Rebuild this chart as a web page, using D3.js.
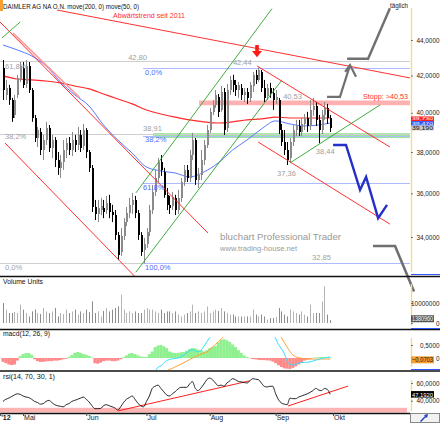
<!DOCTYPE html>
<html>
<head>
<meta charset="utf-8">
<script src="https://cdn.jsdelivr.net/npm/d3@7"></script>
<style>
  body { margin: 0; background: #fff; }
  svg { display: block; font-family: "Liberation Sans", Arial, sans-serif; }
</style>
</head>
<body>
<svg id="chart"></svg>
<script>
var width = 440;
var height = 423;
var plotRight = 410;

// daily candles, 20.04.2012 .. 28.09.2012 (index 0 = first trading day)
var open = [42.42,40.95,41.32,40.68,39.89,40.95,41.76,42.42,41.54,42.53,
  41.21,39.73,38.70,39.01,38.10,38.60,39.21,38.20,38.60,37.60,
  37.22,37.50,38.10,38.45,38.10,38.60,38.35,38.86,38.30,39.11,
  38.00,37.22,35.36,35.04,35.22,35.31,35.22,35.55,35.13,34.99,
  34.09,33.34,34.04,34.67,35.08,35.46,35.69,35.08,34.09,33.43,
  33.69,34.22,35.22,36.07,36.73,37.50,37.02,35.93,35.46,35.41,
  35.79,35.22,35.79,36.54,37.12,36.73,37.85,38.60,36.63,36.88,
  37.60,38.35,39.11,40.05,40.42,40.84,40.15,41.10,39.21,41.21,
  41.76,41.49,41.21,41.32,40.95,41.10,40.79,41.43,42.04,41.76,
  42.20,41.32,40.89,41.32,41.05,40.68,40.68,39.11,38.50,38.10,
  37.70,38.50,39.11,39.32,39.01,39.42,39.73,39.32,40.15,40.36,
  39.63,39.11,39.89,40.26,39.73];
var high = [42.86,41.76,41.49,40.79,40.95,42.04,42.75,42.75,42.86,42.75,
  41.32,39.89,39.27,39.21,38.86,39.53,39.37,38.86,38.75,38.00,
  37.85,38.60,38.70,38.75,39.01,38.86,39.27,39.11,39.42,39.21,
  38.10,37.36,35.69,35.69,35.79,35.69,35.88,35.93,35.46,35.22,
  34.22,34.40,34.85,35.36,35.79,36.02,35.88,35.22,34.22,33.96,
  34.40,35.46,36.40,37.12,37.70,37.85,37.22,36.25,35.88,36.07,
  35.93,36.16,36.73,37.36,37.36,38.10,38.96,38.70,37.22,38.10,
  38.60,39.37,40.26,40.68,41.21,41.00,41.43,41.32,41.54,41.98,
  42.04,41.76,41.65,41.54,41.32,41.32,41.65,42.20,42.31,42.44,
  42.31,41.76,41.54,41.60,41.32,41.21,40.79,39.42,39.11,38.50,
  38.70,39.37,39.63,39.63,39.73,39.94,40.05,40.68,40.79,40.57,
  39.89,40.15,40.57,40.47,39.89];
var low = [40.68,40.68,40.42,39.53,39.73,40.79,41.65,41.32,41.32,41.05,
  39.53,38.50,38.25,37.85,37.60,38.35,38.00,37.70,37.26,36.88,
  36.73,37.12,37.70,37.85,37.80,38.00,38.10,38.00,38.10,37.70,
  37.02,35.13,34.76,34.67,34.99,34.85,35.04,34.85,34.67,33.87,
  32.99,33.17,33.87,34.49,34.85,35.04,34.85,33.87,33.17,32.85,
  33.52,34.04,35.04,35.88,36.54,36.83,35.79,35.22,35.04,35.22,
  34.99,35.04,35.60,36.35,36.54,36.54,37.60,36.40,36.25,36.63,
  37.36,38.20,38.96,39.89,40.26,39.78,40.05,38.86,39.01,40.95,
  41.10,40.89,40.79,40.68,40.57,40.47,40.57,41.10,41.54,41.65,
  41.10,40.57,40.68,40.79,40.15,40.47,38.91,38.30,37.85,37.36,
  37.50,38.30,38.80,38.80,38.80,39.11,39.01,39.11,39.84,39.32,
  38.44,38.91,39.63,39.42,39.01];
var close = [41.21,41.32,40.68,39.73,40.68,41.87,42.53,41.49,42.53,41.21,
  39.73,38.70,39.11,38.10,38.60,39.21,38.20,38.60,37.60,37.22,
  37.50,38.10,38.45,38.10,38.60,38.35,38.86,38.20,39.11,38.00,
  37.22,35.36,35.04,35.31,35.41,35.13,35.55,35.13,34.99,34.09,
  33.21,34.04,34.67,35.08,35.46,35.69,35.08,34.09,33.34,33.69,
  34.22,35.22,36.07,36.73,37.50,37.12,35.93,35.46,35.31,35.83,
  35.22,35.79,36.54,37.12,36.73,37.85,38.60,36.63,36.88,37.60,
  38.35,39.11,40.05,40.42,40.95,40.05,41.10,39.11,41.21,41.76,
  41.49,41.21,41.49,40.95,41.10,40.79,41.49,42.04,41.76,42.31,
  41.32,40.79,41.32,41.05,40.68,40.84,39.11,38.50,38.10,37.60,
  38.50,39.11,39.37,39.01,39.42,39.73,39.32,40.15,40.36,39.63,
  39.11,39.89,40.26,39.73,39.19];
// volume in millions of shares
var volume = [10,6.7,5,5,5.5,5,9.2,6.7,5,3.3,
  5.8,6.7,5,4.5,7.5,5.8,5,5.8,7.5,3.3,
  5,4.5,6.7,5,5.8,6.7,4.2,5.8,5,6.7,
  5.5,10.8,5,5.8,3.3,6,7.5,5.8,6.7,7.5,
  8.3,14.2,6.7,5,5.8,5,5.8,5,5,6.7,
  7.5,6.7,6.7,5.8,5,6.7,5,5.8,5.8,5,
  5.8,4.2,3.3,4.2,5,5.8,9.2,5,5.8,5,
  5.8,8.3,5,5.8,6.7,6,7.5,5.8,5,4.2,
  4.2,3.3,3.3,3.3,3.3,3.3,3.3,6.7,4.2,3.3,
  4.2,3.3,1.7,2.5,2.5,3,7.5,5.8,4.2,3.3,
  6.7,5.8,5,4.2,5.8,4.2,3.3,9.2,5,5,
  5,10.8,18.3,4.2,1.38096];
// moving averages, sampled every 5 days
var maIdx = [0,5,10,15,20,25,30,35,40,45,50,55,60,65,70,75,80,85,90,95,100,105,110,114];
var ma200 = [41.98,41.81,41.76,41.70,41.60,41.43,41.27,41.00,40.73,40.47,40.15,39.94,
  39.78,39.63,39.53,39.47,39.53,39.63,39.68,39.78,39.73,39.73,39.73,39.73];
var ma50 = [43.71,43.43,43.09,42.53,41.65,40.95,40.36,39.37,38.60,37.95,37.26,37.07,
  36.97,36.78,37.02,37.46,38.10,38.60,39.16,39.58,39.42,39.32,39.37,39.47];
var macdHist = [-0.15,-0.2,-0.25,-0.27,-0.25,-0.1,0.08,0.15,0.19,0.19,
  0.12,-0.05,-0.12,-0.15,-0.15,-0.13,-0.12,-0.12,-0.1,-0.1,
  -0.08,-0.05,-0.03,0.05,0.12,0.2,0.23,0.2,0.15,0.12,
  0.08,0.02,-0.2,-0.22,-0.18,-0.12,-0.1,-0.1,-0.12,-0.12,
  -0.1,-0.05,0.03,0.1,0.17,0.19,0.15,0.1,0.06,0.04,
  0.04,0.15,0.25,0.42,0.48,0.5,0.45,0.38,0.25,0.21,
  0.19,0.2,0.22,0.23,0.28,0.35,0.38,0.37,0.32,0.3,
  0.25,0.3,0.38,0.42,0.46,0.6,0.7,0.72,0.68,0.62,
  0.52,0.42,0.3,0.2,0.1,0.04,-0.01,-0.04,-0.05,-0.07,
  -0.08,-0.08,-0.09,-0.1,-0.14,-0.2,-0.28,-0.35,-0.4,-0.41,
  -0.42,-0.38,-0.32,-0.25,-0.18,-0.1,-0.06,-0.03,0.01,0.02,
  0.03,0.04,0.03,0.03,0.02];
// macd and signal line, only the stretches inside the panel range
var macdLine = [
  [[53,-0.5],[54,-0.36],[55,-0.3],[56,-0.2],[57,-0.1],[58,-0.06],[59,-0.03],[60,-0.02],[61,0],[62,0.05],
   [63,0.12],[64,0.2],[65,0.28],[66,0.32],[67,0.28],[68,0.24],[69,0.3],[70,0.45],[71,0.62],[72,0.78],[73,0.95]],
  [[94,0.95],[95,0.75],[96,0.52],[97,0.35],[98,0.18],[99,-0.12],[100,-0.24],[101,-0.27],[102,-0.24],[103,-0.2],
   [104,-0.18],[105,-0.17],[106,-0.16],[107,-0.15],[108,-0.12],[109,-0.08],[110,-0.05],[111,-0.02],[112,0],[113,0.02],[114,0.04]]
];
var signalLine = [
  [[56,-0.6],[57,-0.5],[58,-0.44],[59,-0.4],[60,-0.34],[61,-0.29],[62,-0.24],[63,-0.18],[64,-0.12],[65,-0.06],
   [66,0],[67,0.05],[68,0.1],[69,0.15],[70,0.19],[71,0.23],[72,0.32],[73,0.42],[74,0.52],[75,0.62],[76,0.72],[77,0.85]],
  [[96,0.95],[97,0.78],[98,0.6],[99,0.42],[100,0.25],[101,0.12],[102,0.05],[103,0.01],[104,-0.01],[105,-0.03],
   [106,-0.04],[107,-0.04],[108,-0.04],[109,-0.04],[110,-0.04],[111,-0.04],[112,-0.04],[113,-0.04],[114,-0.04]]
];
var macdValue = -0.0703;
var rsi = [39.2,41.6,42.9,44.7,46.5,47.8,47.1,45.3,44.1,43.5,
  41.6,39.2,38.0,36.1,36.7,39.2,40.4,38.0,35.5,34.3,
  33.7,33.1,35.5,36.7,39.2,40.4,41.6,42.9,44.1,41.6,
  38.6,34.3,31.0,31.0,31.2,34.3,35.5,34.3,33.1,31.8,
  29.4,33.1,38.0,41.6,43.5,45.3,41.6,37.1,34.3,33.1,
  39.2,45.3,53.9,56.3,57.6,53.9,50.2,46.5,45.3,47.8,
  50.2,53.3,55.1,55.1,55.1,58.8,61.6,53.9,51.4,54.5,
  58.8,63.7,65.5,63.7,60.0,56.9,57.6,56.3,60.0,62.4,
  64.9,63.7,61.8,61.2,60.6,60.0,62.4,64.9,64.3,63.7,
  60.0,56.3,55.5,56.3,56.3,47.8,41.0,37.4,36.1,35.5,
  42.9,42.3,42.3,44.1,45.3,46.5,47.8,49.4,51.4,53.9,
  52.0,51.4,53.9,52.7,47.192];

// axis ticks
var priceTicks = [44, 42, 40, 38, 36, 34];
var volumeTicks = [0, 10];
var macdTicks = [0, 0.5];
var rsiTicks = [60, 40];
var monthIdx = [-1, 7, 29, 50, 72, 95, 115];
var monthLabels = ["'12", 'Mai', 'Jun', 'Jul', 'Aug', 'Sep', 'Okt'];

// fibonacci levels and zones
var grayFib = [42.80, 38.91, 32.85];
var grayFibPct = ['61,8%', '38,2%', '0,0%'];
var blueFib = [42.44, 38.78, 36.51, 32.85];
var blueFibPct = ['0,0%', '38,2%', '61,8%', '100,0%'];
var stopZone = [40.40, 40.65];
var supportZone = [38.70, 38.95];

// hand drawn trend lines [day index, price]
var redTrends = [
  [[-1.05, 45.05], [71.4, 34.18]],
  [[0.7, 38.45], [46, 32.28]],
  [[18.8, 45.76], [141.8, 41.87]],
  [[88.5, 42.53], [134.8, 38.25]],
  [[88.9, 38.50], [134.8, 34.58]]
];
var pinkTrend = [[3.5, 44.40], [26.8, 40.79]];
var greenTrends = [
  [[-0.35, 44.12], [6, 45.05]],
  [[46.3, 36.02], [93.7, 45.84]],
  [[46.3, 32.47], [97.2, 41.76]],
  [[100, 37.46], [131.4, 40.42]]
];
var grayUp1 = [[112.9, 40.84], [117.4, 40.84], [120.9, 42.58]];
var grayUp1Head = [[119.2, 42.20], [120.9, 42.58], [123, 41.93]];
var grayUp2 = [[119.9, 42.93], [127.2, 42.93], [134.8, 45.87]];
var grayDown = [[128.9, 33.60], [136.6, 33.60], [143.2, 31.66]];
var blueDown = [[115, 38.35], [119.5, 38.35], [124.4, 36.16], [126.5, 36.78], [130.7, 34.85], [133.8, 35.46]];
var arrowTip = [88.5, 43.03];
var rsiTrends = [
  [[40.1, 28.5], [86, 62.5]],
  [[99.3, 34.0], [120.2, 56.5]]
];

var de = d3.formatLocale({decimal: ',', thousands: '.', grouping: [3], currency: ['', ' €']});

var svg = d3.select('#chart')
  .attr('width', width)
  .attr('height', height);

// scales
var x = d3.scaleLinear().domain([0, 114]).range([3, 330.2]);
var yP = d3.scaleLog().domain([44, 34]).range([40, 237]);
var yV = d3.scaleLinear().domain([0, 10]).range([323, 303]);
var yM = d3.scaleLinear().domain([0, 0.5]).range([358, 345]);
var yR = d3.scaleLinear().domain([60, 40]).range([383, 400.7]);

var defs = svg.append('defs');
function clip(id, y0, y1) {
  defs.append('clipPath').attr('id', id)
    .append('rect').attr('x', 0).attr('y', y0).attr('width', plotRight).attr('height', y1 - y0);
}
clip('clip-main', 8, 276);
clip('clip-vol', 277, 329);
clip('clip-macdh', 330, 370);
clip('clip-macd', 337, 370);
clip('clip-rsi', 372, 412.5);

function label(g, px, py, txt, color, size, len) {
  var t = g.append('text')
    .attr('x', px)
    .attr('y', py)
    .attr('fill', color)
    .attr('font-size', size)
    .text(txt);
  if (len) t.attr('textLength', len).attr('lengthAdjust', 'spacingAndGlyphs');
  return t;
}

var lineP = d3.line().x(function(d) { return x(d[0]); }).y(function(d) { return yP(d[1]); });

// ---------- main price panel ----------
var main = svg.append('g').attr('clip-path', 'url(#clip-main)');

// zones
main.append('rect')
  .attr('x', x(68.3)).attr('width', plotRight - x(68.3))
  .attr('y', yP(stopZone[1])).attr('height', yP(stopZone[0]) - yP(stopZone[1]))
  .attr('fill', '#ffb0b0');
main.append('rect')
  .attr('x', x(52.3)).attr('width', plotRight - x(52.3))
  .attr('y', yP(supportZone[1])).attr('height', yP(supportZone[0]) - yP(supportZone[1]))
  .attr('fill', '#9de49d');

// fibonacci lines
main.selectAll('.gfib').data(grayFib).enter().append('line')
  .attr('x1', 0).attr('x2', plotRight)
  .attr('y1', function(d) { return Math.round(yP(d)) + 0.5; })
  .attr('y2', function(d) { return Math.round(yP(d)) + 0.5; })
  .attr('stroke', '#cfcfcf');
main.selectAll('.bfib').data(blueFib).enter().append('line')
  .attr('x1', x(48.8)).attr('x2', plotRight)
  .attr('y1', function(d) { return Math.round(yP(d)) + 0.5; })
  .attr('y2', function(d) { return Math.round(yP(d)) + 0.5; })
  .attr('stroke', '#aebcff');

// moving averages
var maLine = function(vals) {
  return d3.line()
    .x(function(d, i) { return x(maIdx[i]); })
    .y(function(d) { return yP(d); })
    .curve(d3.curveMonotoneX)(vals);
};
main.append('path').attr('d', maLine(ma200)).attr('fill', 'none').attr('stroke', '#ff2a2a').attr('stroke-width', 1.2);
main.append('path').attr('d', maLine(ma50)).attr('fill', 'none').attr('stroke', '#5878ff').attr('stroke-width', 1);

// candles
var days = d3.range(close.length);
function candleColor(i) { return close[i] >= open[i] ? '#8a8a8a' : '#000'; }
main.append('g').selectAll('line').data(days).enter().append('line')
  .attr('x1', function(i) { return Math.round(x(i)) + 0.5; })
  .attr('x2', function(i) { return Math.round(x(i)) + 0.5; })
  .attr('y1', function(i) { return yP(high[i]); })
  .attr('y2', function(i) { return yP(low[i]); })
  .attr('stroke', candleColor);
main.append('g').selectAll('rect').data(days).enter().append('rect')
  .attr('x', function(i) { return Math.round(x(i)) - 0.5; })
  .attr('width', 2)
  .attr('y', function(i) { return yP(Math.max(open[i], close[i])); })
  .attr('height', function(i) { return Math.max(1, Math.abs(yP(open[i]) - yP(close[i]))); })
  .attr('fill', candleColor)
  .attr('shape-rendering', 'crispEdges');

// trend lines
main.append('path').attr('d', lineP(pinkTrend)).attr('fill', 'none').attr('stroke', '#ff9a9a').attr('stroke-width', 1.6);
main.selectAll('.rt').data(redTrends).enter().append('path')
  .attr('d', lineP).attr('fill', 'none').attr('stroke', '#ff1a1a').attr('stroke-width', 0.9);
main.selectAll('.gt').data(greenTrends).enter().append('path')
  .attr('d', lineP).attr('fill', 'none').attr('stroke', '#2ca02c').attr('stroke-width', 0.9);

// labels on the price panel
var lab = svg.append('g');
var gray = '#a0a0a0', blue = '#4d6bff';
label(lab, 5, yP(grayFib[0]) + 8, grayFibPct[0], gray, 7.5);
label(lab, 5, yP(grayFib[1]) + 5, grayFibPct[1], gray, 7.5);
label(lab, 5, yP(grayFib[2]) + 7, grayFibPct[2], gray, 7.5);
label(lab, x(43.6), yP(grayFib[0]) - 1.5, de.format('.2f')(grayFib[0]), gray, 7.5);
label(lab, x(48.8), yP(grayFib[1]) - 3, de.format('.2f')(grayFib[1]), gray, 7.5);
label(lab, x(107.7), yP(grayFib[2]) - 3.5, de.format('.2f')(grayFib[2]), gray, 7.5);
label(lab, x(49.5), yP(blueFib[0]) + 7.5, blueFibPct[0], blue, 7.5);
label(lab, x(49.5), yP(blueFib[1]) + 5.5, blueFibPct[1], blue, 7.5);
label(lab, x(48.8), yP(blueFib[2]) + 7, blueFibPct[2], blue, 7.5);
label(lab, x(49.5), yP(blueFib[3]) + 7, blueFibPct[3], blue, 7.5);
label(lab, x(80.1), yP(42.44) - 2.5, '42,44', gray, 7.5);
label(lab, x(97.6), yP(stopZone[1]) - 1.5, '40,53', gray, 7.5);
label(lab, x(125.4), yP(stopZone[1]) - 1.5, 'Stopp: >40,53', '#ff3030', 7.5, 45);
label(lab, x(95.5), yP(37.36) + 11, '37,36', gray, 7.5);
label(lab, x(109), yP(38.44) + 11, '38,44', gray, 7.5);
label(lab, 113, 18, 'Abwärtstrend seit 2011', '#ff3030', 7.5, 72);
label(lab, 220, 240, 'bluchart Professional Trader', '#9a9a9a', 9.5, 121);
label(lab, 220, 251, 'www.trading-house.net', '#9a9a9a', 6.5, 77);

// projections
var proj = svg.append('g').attr('fill', 'none').attr('stroke-linejoin', 'miter');
proj.append('path').attr('d', lineP(grayUp1)).attr('stroke', '#707070').attr('stroke-width', 2.2);
proj.append('path').attr('d', lineP(grayUp1Head)).attr('stroke', '#707070').attr('stroke-width', 2.2);
proj.append('path').attr('d', lineP(grayUp2)).attr('stroke', '#707070').attr('stroke-width', 2.4);
proj.append('path').attr('d', lineP(grayDown)).attr('stroke', '#707070').attr('stroke-width', 2.6);
proj.append('path').attr('d', lineP(blueDown)).attr('stroke', '#2430c8').attr('stroke-width', 2.4);

// red arrow at the top
var ax = x(arrowTip[0]), ay = yP(arrowTip[1]);
svg.append('path')
  .attr('d', 'M' + (ax - 1.8) + ',' + (ay - 12) + 'h3.6v6h3.2l-5,6.2l-5,-6.2h3.2z')
  .attr('fill', '#ff1a1a');

// header
svg.append('rect').attr('x', 0).attr('y', 0).attr('width', 3).attr('height', 11).attr('fill', '#f5a030');
label(svg, 3, 9, 'DAIMLER AG NA O.N. move(200, 0) move(50, 0)', '#111', 7.5, 136);
label(svg, 390, 7.5, 'täglich', '#222', 7, 18);

// ---------- volume ----------
var vol = svg.append('g').attr('clip-path', 'url(#clip-vol)');
vol.selectAll('line').data(days).enter().append('line')
  .attr('x1', function(i) { return Math.round(x(i)) + 0.5; })
  .attr('x2', function(i) { return Math.round(x(i)) + 0.5; })
  .attr('y1', yV(0))
  .attr('y2', function(i) { return yV(volume[i]); })
  .attr('stroke', function(i) { return close[i] >= open[i] ? '#b4b4b4' : '#8c8c8c'; });
label(svg, 3, 284, 'Volume Units', '#111', 7, 40);

// ---------- macd ----------
var macdG = svg.append('g').attr('clip-path', 'url(#clip-macdh)');
macdG.selectAll('rect').data(days).enter().append('rect')
  .attr('x', function(i) { return x(i) - 1.5; })
  .attr('width', 3)
  .attr('y', function(i) { return Math.min(yM(0), yM(macdHist[i])); })
  .attr('height', function(i) { return Math.abs(yM(macdHist[i]) - yM(0)); })
  .attr('fill', function(i) { return macdHist[i] >= 0 ? '#8ef08e' : '#ff8a8a'; });
var lineM = d3.line().x(function(d) { return x(d[0]); }).y(function(d) { return yM(d[1]); }).curve(d3.curveMonotoneX);
var macdL = svg.append('g').attr('clip-path', 'url(#clip-macd)').attr('fill', 'none');
macdL.selectAll('.sig').data(signalLine).enter().append('path').attr('d', lineM).attr('stroke', '#ffa030').attr('stroke-width', 1);
macdL.selectAll('.mac').data(macdLine).enter().append('path').attr('d', lineM).attr('stroke', '#30e0ff').attr('stroke-width', 1);
label(svg, 3, 336, 'macd(12, 26, 9)', '#111', 7, 47);

// ---------- rsi ----------
var rsiG = svg.append('g').attr('clip-path', 'url(#clip-rsi)');
rsiG.append('rect').attr('x', 0).attr('width', 407)
  .attr('y', yR(32)).attr('height', 413 - yR(32)).attr('fill', '#ffb4b4');
rsiG.selectAll('.rtl').data(rsiTrends).enter().append('path')
  .attr('d', d3.line().x(function(d) { return x(d[0]); }).y(function(d) { return yR(d[1]); }))
  .attr('stroke', '#ff2020').attr('fill', 'none');
rsiG.append('path')
  .attr('d', d3.line().x(function(d, i) { return x(i); }).y(function(d) { return yR(d); }).curve(d3.curveMonotoneX)(rsi))
  .attr('fill', 'none').attr('stroke', '#111').attr('stroke-width', 0.9);
label(svg, 3, 379, 'rsi(14, 70, 30, 1)', '#111', 7, 52);

// ---------- panel separators ----------
[276, 329, 370.5, 413].forEach(function(py) {
  svg.append('line').attr('x1', 0).attr('x2', py === 413 ? plotRight : width)
    .attr('y1', py + 0.5).attr('y2', py + 0.5).attr('stroke', '#111').attr('stroke-width', 1.3);
});

// ---------- right axes ----------
function rightAxis(scale, ticks, fmt, y0, y1) {
  var g = svg.append('g').attr('transform', 'translate(' + (plotRight + 1) + ',0)');
  g.append('line').attr('x1', 0.5).attr('x2', 0.5).attr('y1', y0).attr('y2', y1)
    .attr('stroke', '#f2dc8a').attr('stroke-width', 1.4);
  g.append('line').attr('x1', 0).attr('x2', 30).attr('y1', y1 + 2.5).attr('y2', y1 + 2.5)
    .attr('stroke', '#3355ff');
  g.call(d3.axisRight(scale).tickValues(ticks).tickFormat(fmt).tickSize(2));
  g.select('.domain').remove();
  g.selectAll('.tick line').attr('stroke', '#777');
  g.selectAll('.tick text')
    .attr('x', 28.5).attr('text-anchor', 'end')
    .attr('font-size', 6.4).attr('fill', '#222')
    .attr('font-family', '"Liberation Sans", Arial, sans-serif');
  return g;
}
function valueBox(py, txt, fill, color, h, size) {
  var g = svg.append('g');
  g.append('rect').attr('x', plotRight + 1).attr('y', py - h / 2).attr('width', 23).attr('height', h).attr('fill', fill);
  label(g, plotRight + 2, py + size * 0.36, txt, color, size, 21);
}
var fmtP = function(d) { return de.format('.4f')(d); };
rightAxis(yP, priceTicks, fmtP, 8, 272);
rightAxis(yV, volumeTicks, function(d) { return d === 0 ? '0' : d3.format('d')(d * 1e6); }, 284, 326);
rightAxis(yM, macdTicks, function(d) { return d === 0 ? '0' : de.format('.4f')(d); }, 338, 367);
rightAxis(yR, rsiTicks, fmtP, 380, 411);

var last = close.length - 1;
var boxClose = yP(close[last]) - 0.5;
valueBox(boxClose - 9.2, de.format('.3f')(ma200[ma200.length - 1]), '#ff2020', '#fff', 4.6, 4.4);
valueBox(boxClose - 4.6, de.format('.3f')(ma50[ma50.length - 1]), '#3355ff', '#fff', 4.6, 4.4);
valueBox(boxClose, de.format('.3f')(close[last]), '#c8c8c8', '#111', 4.8, 4.8);
valueBox(yV(volume[last]) - 1.5, d3.format('d')(Math.round(volume[last] * 1e6)), '#555', '#fff', 7, 6.5);
valueBox(yM(macdValue), de.format('.4f')(macdValue), '#f5a030', '#111', 7, 6.5);
valueBox(yR(rsi[last]), de.format('.4f')(rsi[last]), '#000', '#fff', 6.5, 6.2);

// ---------- time axis ----------
var xa = svg.append('g').attr('transform', 'translate(0,413)');
xa.call(d3.axisBottom(x).tickValues(monthIdx).tickFormat(function(d, i) { return monthLabels[i]; }).tickSize(3));
xa.select('.domain').remove();
xa.selectAll('.tick line').attr('stroke', '#444');
xa.selectAll('.tick text')
  .attr('y', 2.2).attr('x', 0.5).attr('dy', '0.71em')
  .attr('text-anchor', 'start')
  .attr('font-size', 7).attr('fill', '#222')
  .attr('font-family', '"Liberation Sans", Arial, sans-serif')
  .attr('font-weight', function(d, i) { return i === 0 ? 'bold' : 'normal'; });

// corner button
svg.append('rect').attr('x', plotRight + 0.5).attr('y', 413.5).attr('width', 29).attr('height', 9)
  .attr('fill', '#f2f2f2').attr('stroke', '#888');
svg.append('path').attr('d', 'M420,421 l5,-5 l2,2 l1,-4 l-4,1 l2,2 l-5,5z').attr('fill', '#2240c0');
</script>
</body>
</html>
